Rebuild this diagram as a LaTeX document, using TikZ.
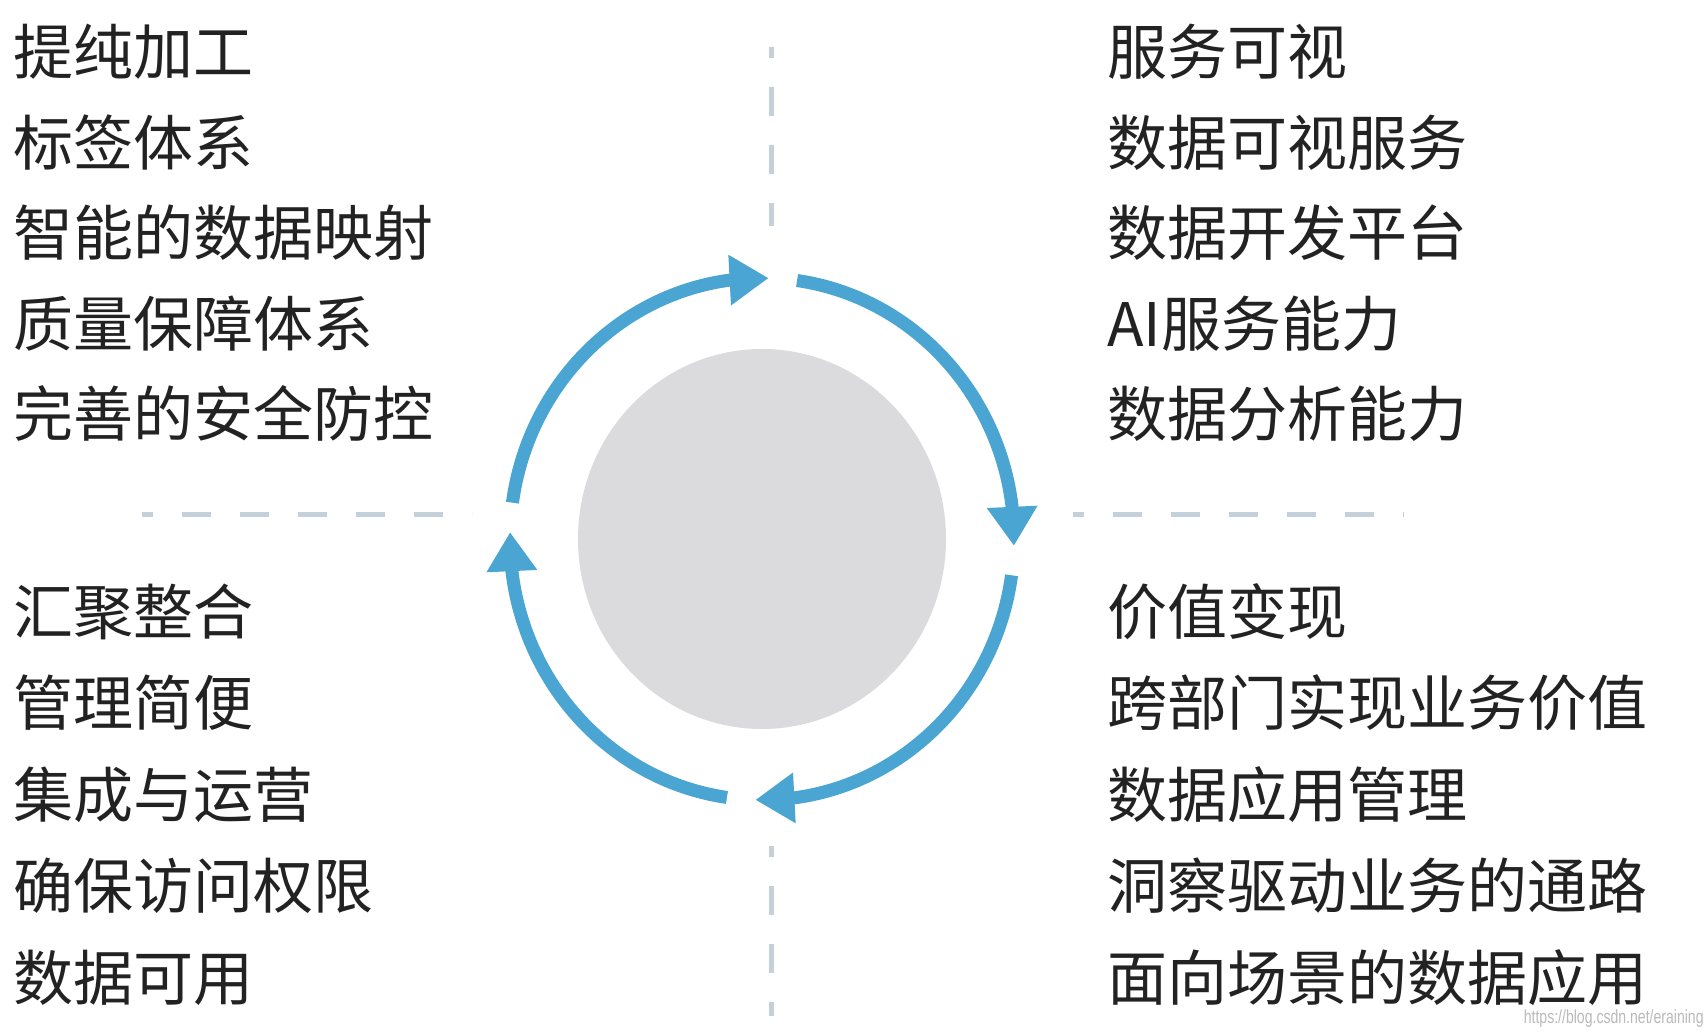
\documentclass[tikz,border=0pt]{standalone}
\usepackage{fontspec}
\newfontfamily\cjk{Noto Sans CJK SC}
\newfontfamily\urlfont{Liberation Sans}
\usetikzlibrary{arrows.meta,bending,calc}
\definecolor{ringblue}{RGB}{74,165,210}
\definecolor{hubgray}{RGB}{219,219,221}
\definecolor{axisdash}{RGB}{196,208,218}
\definecolor{itemtext}{RGB}{34,34,34}
\tikzstyle{item}=[anchor=west, inner sep=0pt, text=itemtext, font=\cjk\fontsize{30pt}{36pt}\selectfont, text height=25.5pt, text depth=3pt]
\tikzstyle{cyclearrow}=[ringblue, line width=6.5pt, -{Triangle[length=19.5pt,width=24pt]}]
\tikzstyle{axis}=[axisdash, line width=2.5pt, dash pattern=on 14.5pt off 14.5pt, dash phase=9pt]

\begin{document}
\begin{tikzpicture}[x=0.5pt, y=0.5pt]

    \useasboundingbox (0,0) rectangle (1706,1032);
    \coordinate (hub) at (762,493);

    % dashed cross
    \coordinate (axL1) at (142,517);  \coordinate (axL2) at (472,517);
    \coordinate (axR1) at (1073,517); \coordinate (axR2) at (1404,517);
    \coordinate (axT1) at (771,985);  \coordinate (axT2) at (771,806);
    \coordinate (axB1) at (771,186);  \coordinate (axB2) at (771,16);
    \draw[axis] (axL1) -- (axL2);
    \draw[axis] (axR1) -- (axR2);
    \draw[axis] (axT1) -- (axT2);
    \draw[axis] (axB1) -- (axB2);

    \fill[hubgray] (hub) ellipse[x radius=184, y radius=190];

    % four arrows round the hub
    \foreach \a in {172,82,-8,-98}
        \draw[cyclearrow] ([shift={(\a:252 and 261)}]hub) arc[start angle=\a, delta angle=-83.5, x radius=252, y radius=261];

    \foreach \i/\txt in {0/提纯加工, 1/标签体系, 2/智能的数据映射, 3/质量保障体系, 4/完善的安全防控}
        \node[item] (refine\i) at (13, {980-90.6*\i}) {\txt};

    \foreach \i/\txt in {0/服务可视, 1/数据可视服务, 2/数据开发平台, 3/AI服务能力, 4/数据分析能力}
        \node[item] (visual\i) at (1107, {980-90.6*\i}) {\txt};

    \foreach \i/\txt in {0/汇聚整合, 1/管理简便, 2/集成与运营, 3/确保访问权限, 4/数据可用}
        \node[item] (gather\i) at (13, {420-91.5*\i}) {\txt};

    \foreach \i/\txt in {0/价值变现, 1/跨部门实现业务价值, 2/数据应用管理, 3/洞察驱动业务的通路, 4/面向场景的数据应用}
        \node[item] (value\i) at (1107, {420-91.5*\i}) {\txt};

    \node[anchor=south east, inner sep=0pt, text=gray!55, font=\urlfont\fontsize{9.5pt}{10pt}\selectfont] (srcurl) at (1704,4) {\scalebox{0.74}[1]{https://blog.csdn.net/eraining}};

\end{tikzpicture}
\end{document}
